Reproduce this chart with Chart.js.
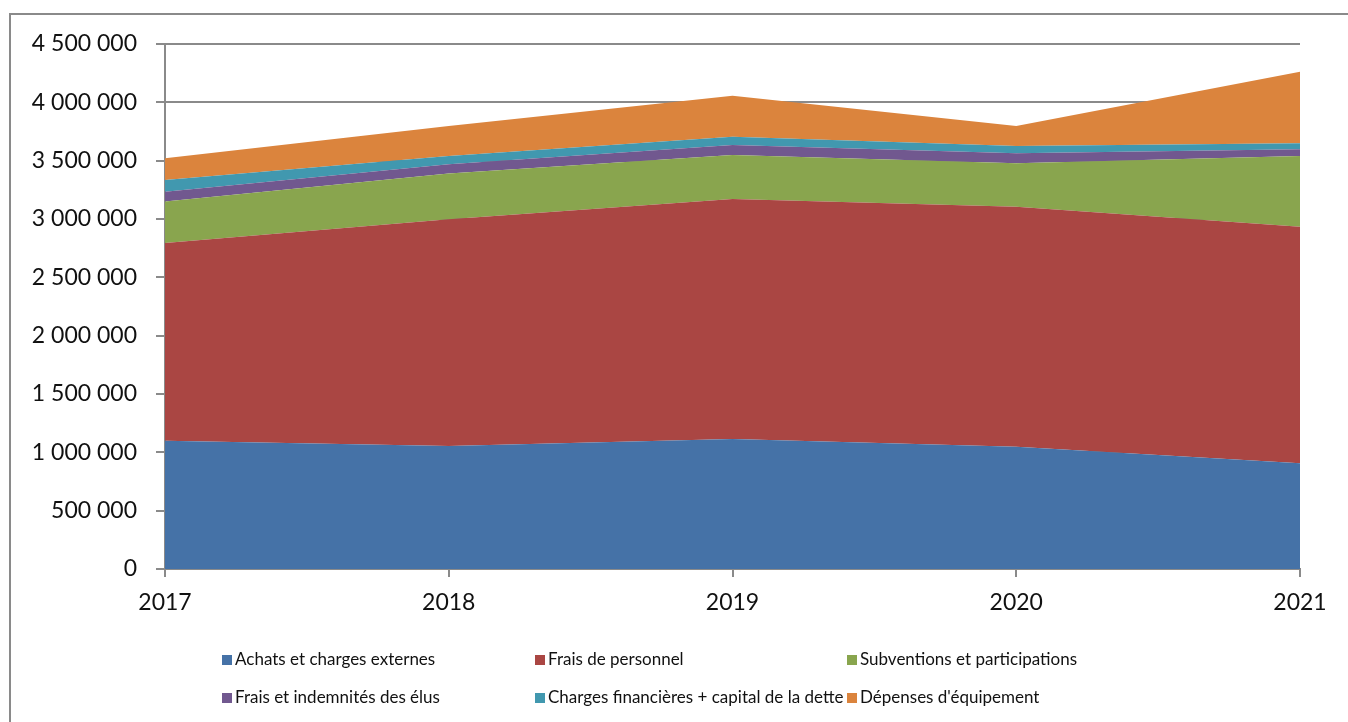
<!DOCTYPE html>
<html lang="fr">
<head>
<meta charset="utf-8">
<title>Dépenses de fonctionnement et d'équipement 2017-2021</title>
<script src="https://cdn.jsdelivr.net/npm/chart.js@4.4.0/dist/chart.umd.min.js"></script>
<style>
  html, body { margin: 0; padding: 0; background: #fff; overflow: hidden; }
  #cadre {
    position: absolute; left: 9px; top: 13px; width: 2000px; height: 2000px;
    border-left: 2px solid #8a8a8a; border-top: 2px solid #8a8a8a;
  }
  #zone { position: absolute; left: 0; top: 0; width: 1348px; height: 722px; }
  #legende {
    position: absolute; left: 0; top: 0; width: 1348px; height: 722px;
    font-family: Lato, "Open Sans", sans-serif; font-size: 17px; color: #111;
    pointer-events: none;
  }
  .item { position: absolute; white-space: nowrap; line-height: 18px; }
  .item span.carre { display: inline-block; width: 10px; height: 10px; margin-right: 3px; vertical-align: 0px; }
</style>
</head>
<body>
<div id="cadre"></div>
<div id="zone"><canvas id="graphique" width="1348" height="722"></canvas></div>
<div id="legende"></div>
<script>
// Années
const annees = ['2017', '2018', '2019', '2020', '2021'];

// Séries (en euros)
const achats = [1100000, 1054000, 1114000, 1048000, 906000];
const personnel = [1694000, 1943000, 2057000, 2057000, 2028000];
const subventions = [357000, 394000, 378000, 372000, 606000];
const elus = [83000, 78000, 85000, 86000, 57000];
const chargesFinancieres = [100000, 71000, 71000, 63000, 52000];
const equipement = [186000, 257000, 352000, 171000, 614000];

// Libellés et couleurs
const libelles = [
    'Achats et charges externes',
    'Frais de personnel',
    'Subventions et participations',
    'Frais et indemnités des élus',
    'Charges financières + capital de la dette',
    "Dépenses d'équipement"
];
const couleurs = ['#4572A7', '#AA4643', '#89A54E', '#71588F', '#4198AF', '#DB843D'];
const series = [achats, personnel, subventions, elus, chargesFinancieres, equipement];

// Graduations de l'axe vertical
const yMax = 4500000;
const yPas = 500000;

function formatNombre(v) {
    return String(v).replace(/\B(?=(\d{3})+(?!\d))/g, ' ');
}

const datasets = series.map((data, i) => ({
    label: libelles[i],
    data: data,
    backgroundColor: couleurs[i],
    borderColor: couleurs[i],
    borderWidth: 0,
    pointRadius: 0,
    tension: 0,
    fill: i === 0 ? 'origin' : '-1'
}));

const ctx = document.getElementById('graphique').getContext('2d');
const graphique = new Chart(ctx, {
    type: 'line',
    data: { labels: annees, datasets: datasets },
    options: {
        responsive: false,
        animation: false,
        layout: { padding: { left: 0, top: 44, right: 48, bottom: 103 } },
        plugins: {
            legend: { display: false },
            tooltip: { enabled: false }
        },
        scales: {
            x: {
                offset: false,
                grid: { drawOnChartArea: false, drawTicks: true, tickLength: 8, color: '#8a8a8a', lineWidth: 2 },
                border: { color: '#8a8a8a', width: 2 },
                ticks: {
                    color: '#111',
                    font: { family: 'Lato', size: 23 },
                    padding: 12,
                    maxRotation: 0
                },
                afterFit: (scale) => { scale.height = 50; }
            },
            y: {
                stacked: true,
                min: 0,
                max: yMax,
                grid: { color: '#8a8a8a', lineWidth: 2, tickLength: 9 },
                border: { color: '#8a8a8a', width: 2 },
                ticks: {
                    stepSize: yPas,
                    color: '#111',
                    font: { family: 'Lato', size: 23 },
                    padding: 19,
                    callback: (v) => formatNombre(v)
                },
                afterFit: (scale) => { scale.width = 165; }
            }
        }
    }
});

// Légende en grille (3 colonnes, 2 lignes)
const colonnesX = [222, 535, 847];
const lignesY = [650, 688];
const legende = document.getElementById('legende');
libelles.forEach((txt, i) => {
    const el = document.createElement('div');
    el.className = 'item';
    el.style.left = colonnesX[i % 3] + 'px';
    el.style.top = lignesY[Math.floor(i / 3)] + 'px';
    const carre = document.createElement('span');
    carre.className = 'carre';
    carre.style.background = couleurs[i];
    el.appendChild(carre);
    el.appendChild(document.createTextNode(txt));
    legende.appendChild(el);
});
</script>
</body>
</html>
